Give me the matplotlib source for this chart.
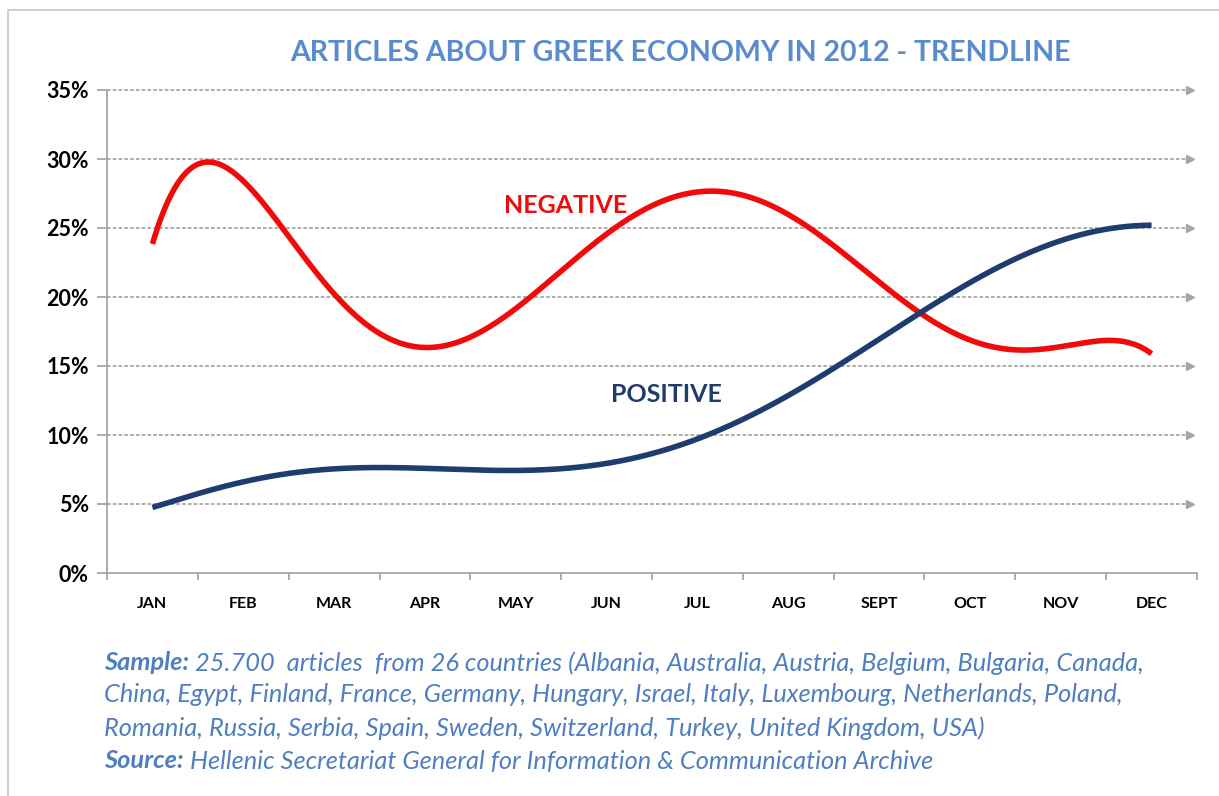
import numpy as np
import matplotlib.pyplot as plt
from matplotlib.patches import Rectangle

months = ['JAN', 'FEB', 'MAR', 'APR', 'MAY', 'JUN', 'JUL', 'AUG', 'SEPT', 'OCT', 'NOV', 'DEC']
negative = [23.8, 28.6, 20.0, 16.3, 19.3, 24.8, 27.3, 25.8, 21.5, 16.7, 16.4, 15.9]
positive = [4.75, 6.6, 7.55, 7.6, 7.4, 7.95, 9.75, 12.8, 17.0, 21.0, 24.1, 25.2]
yticks = [0, 5, 10, 15, 20, 25, 30, 35]

title_blue = '#5b8bcf'
note_blue = '#4f7fc0'
red = '#f00a0a'
navy = '#1f3c6e'
grid_gray = '#a6a6a6'

plt.rcParams['font.family'] = ['Lato', 'DejaVu Sans']

fig = plt.figure(figsize=(12.19, 7.96), dpi=100)
fig.patches.append(Rectangle((8 / 1219, -0.1), 1.2, (786 / 796) + 0.1,
                             transform=fig.transFigure, fill=False,
                             edgecolor='#d0d0d0', linewidth=1.5))

ax = fig.add_axes([107 / 1219, 1 - 573 / 796, (1197 - 107) / 1219, (573 - 90) / 796])

x = np.arange(len(months))
xs = np.linspace(0, len(months) - 1, 400)


# 6th order polynomial trendline, like the excel one
def trend(vals):
    coef = np.polyfit(x, vals, 6)
    return np.polyval(coef, xs)


ax.plot(xs, trend(negative), color=red, lw=4, solid_capstyle='butt', zorder=3)
ax.plot(xs, trend(positive), color=navy, lw=4, solid_capstyle='butt', zorder=3)

ax.set_xlim(-0.5, len(months) - 0.5)
ax.set_ylim(0, 35)

# gridlines with arrow heads at the right end
for yv in yticks[1:]:
    ax.plot([-0.5, 11.42], [yv, yv], color=grid_gray, lw=1.3, ls=(0, (2, 1.2)), zorder=1, clip_on=False)
    ax.plot([11.42], [yv], marker='>', color=grid_gray, ms=6, zorder=1, clip_on=False)

ax.set_yticks(yticks)
ax.set_yticklabels([f'{v}%' for v in yticks], fontsize=15.5, fontweight='bold')
ax.set_xticks(x)
ax.set_xticklabels(months, fontsize=11.5, fontweight='bold')
ax.set_xticks(np.arange(-0.5, len(months)), minor=True)
ax.tick_params(axis='x', which='major', length=0, pad=17)
ax.tick_params(axis='x', which='minor', length=5, color=grid_gray, width=1.3)
ax.tick_params(axis='y', length=7, color=grid_gray, width=1.3, pad=6)

for s in ['top', 'right']:
    ax.spines[s].set_visible(False)
for s in ['left', 'bottom']:
    ax.spines[s].set_color(grid_gray)
    ax.spines[s].set_linewidth(1.3)

ax.text(4.55, 26.6, 'NEGATIVE', color=red, fontsize=18, fontweight='bold', ha='center', va='center')
ax.text(5.66, 12.9, 'POSITIVE', color=navy, fontsize=18, fontweight='bold', ha='center', va='center')

fig.text(680 / 1219, 1 - 53 / 796, 'ARTICLES ABOUT GREEK ECONOMY IN 2012 - TRENDLINE',
         color=title_blue, fontsize=20.5, fontweight='bold', ha='center', va='center')

notes = [
    ('Sample:', ' 25.700  articles  from 26 countries (Albania, Australia, Austria, Belgium, Bulgaria, Canada,'),
    ('', 'China, Egypt, Finland, France, Germany, Hungary, Israel, Italy, Luxembourg, Netherlands, Poland,'),
    ('', 'Romania, Russia, Serbia, Spain, Sweden, Switzerland, Turkey, United Kingdom, USA)'),
    ('Source:', ' Hellenic Secretariat General for Information & Communication Archive'),
]
ny = [663, 695, 728, 761]
for (bold, rest), yp in zip(notes, ny):
    t = fig.text(104 / 1219, 1 - yp / 796, bold, color=note_blue, fontsize=18.3,
                 fontweight='bold', style='italic', va='center')
    if bold:
        fig.canvas.draw()
        bb = t.get_window_extent()
        x0 = bb.x1 / fig.bbox.width
    else:
        x0 = 104 / 1219
    fig.text(x0, 1 - yp / 796, rest, color=note_blue, fontsize=18.3, style='italic', va='center')

plt.savefig('out.png', dpi=100)
